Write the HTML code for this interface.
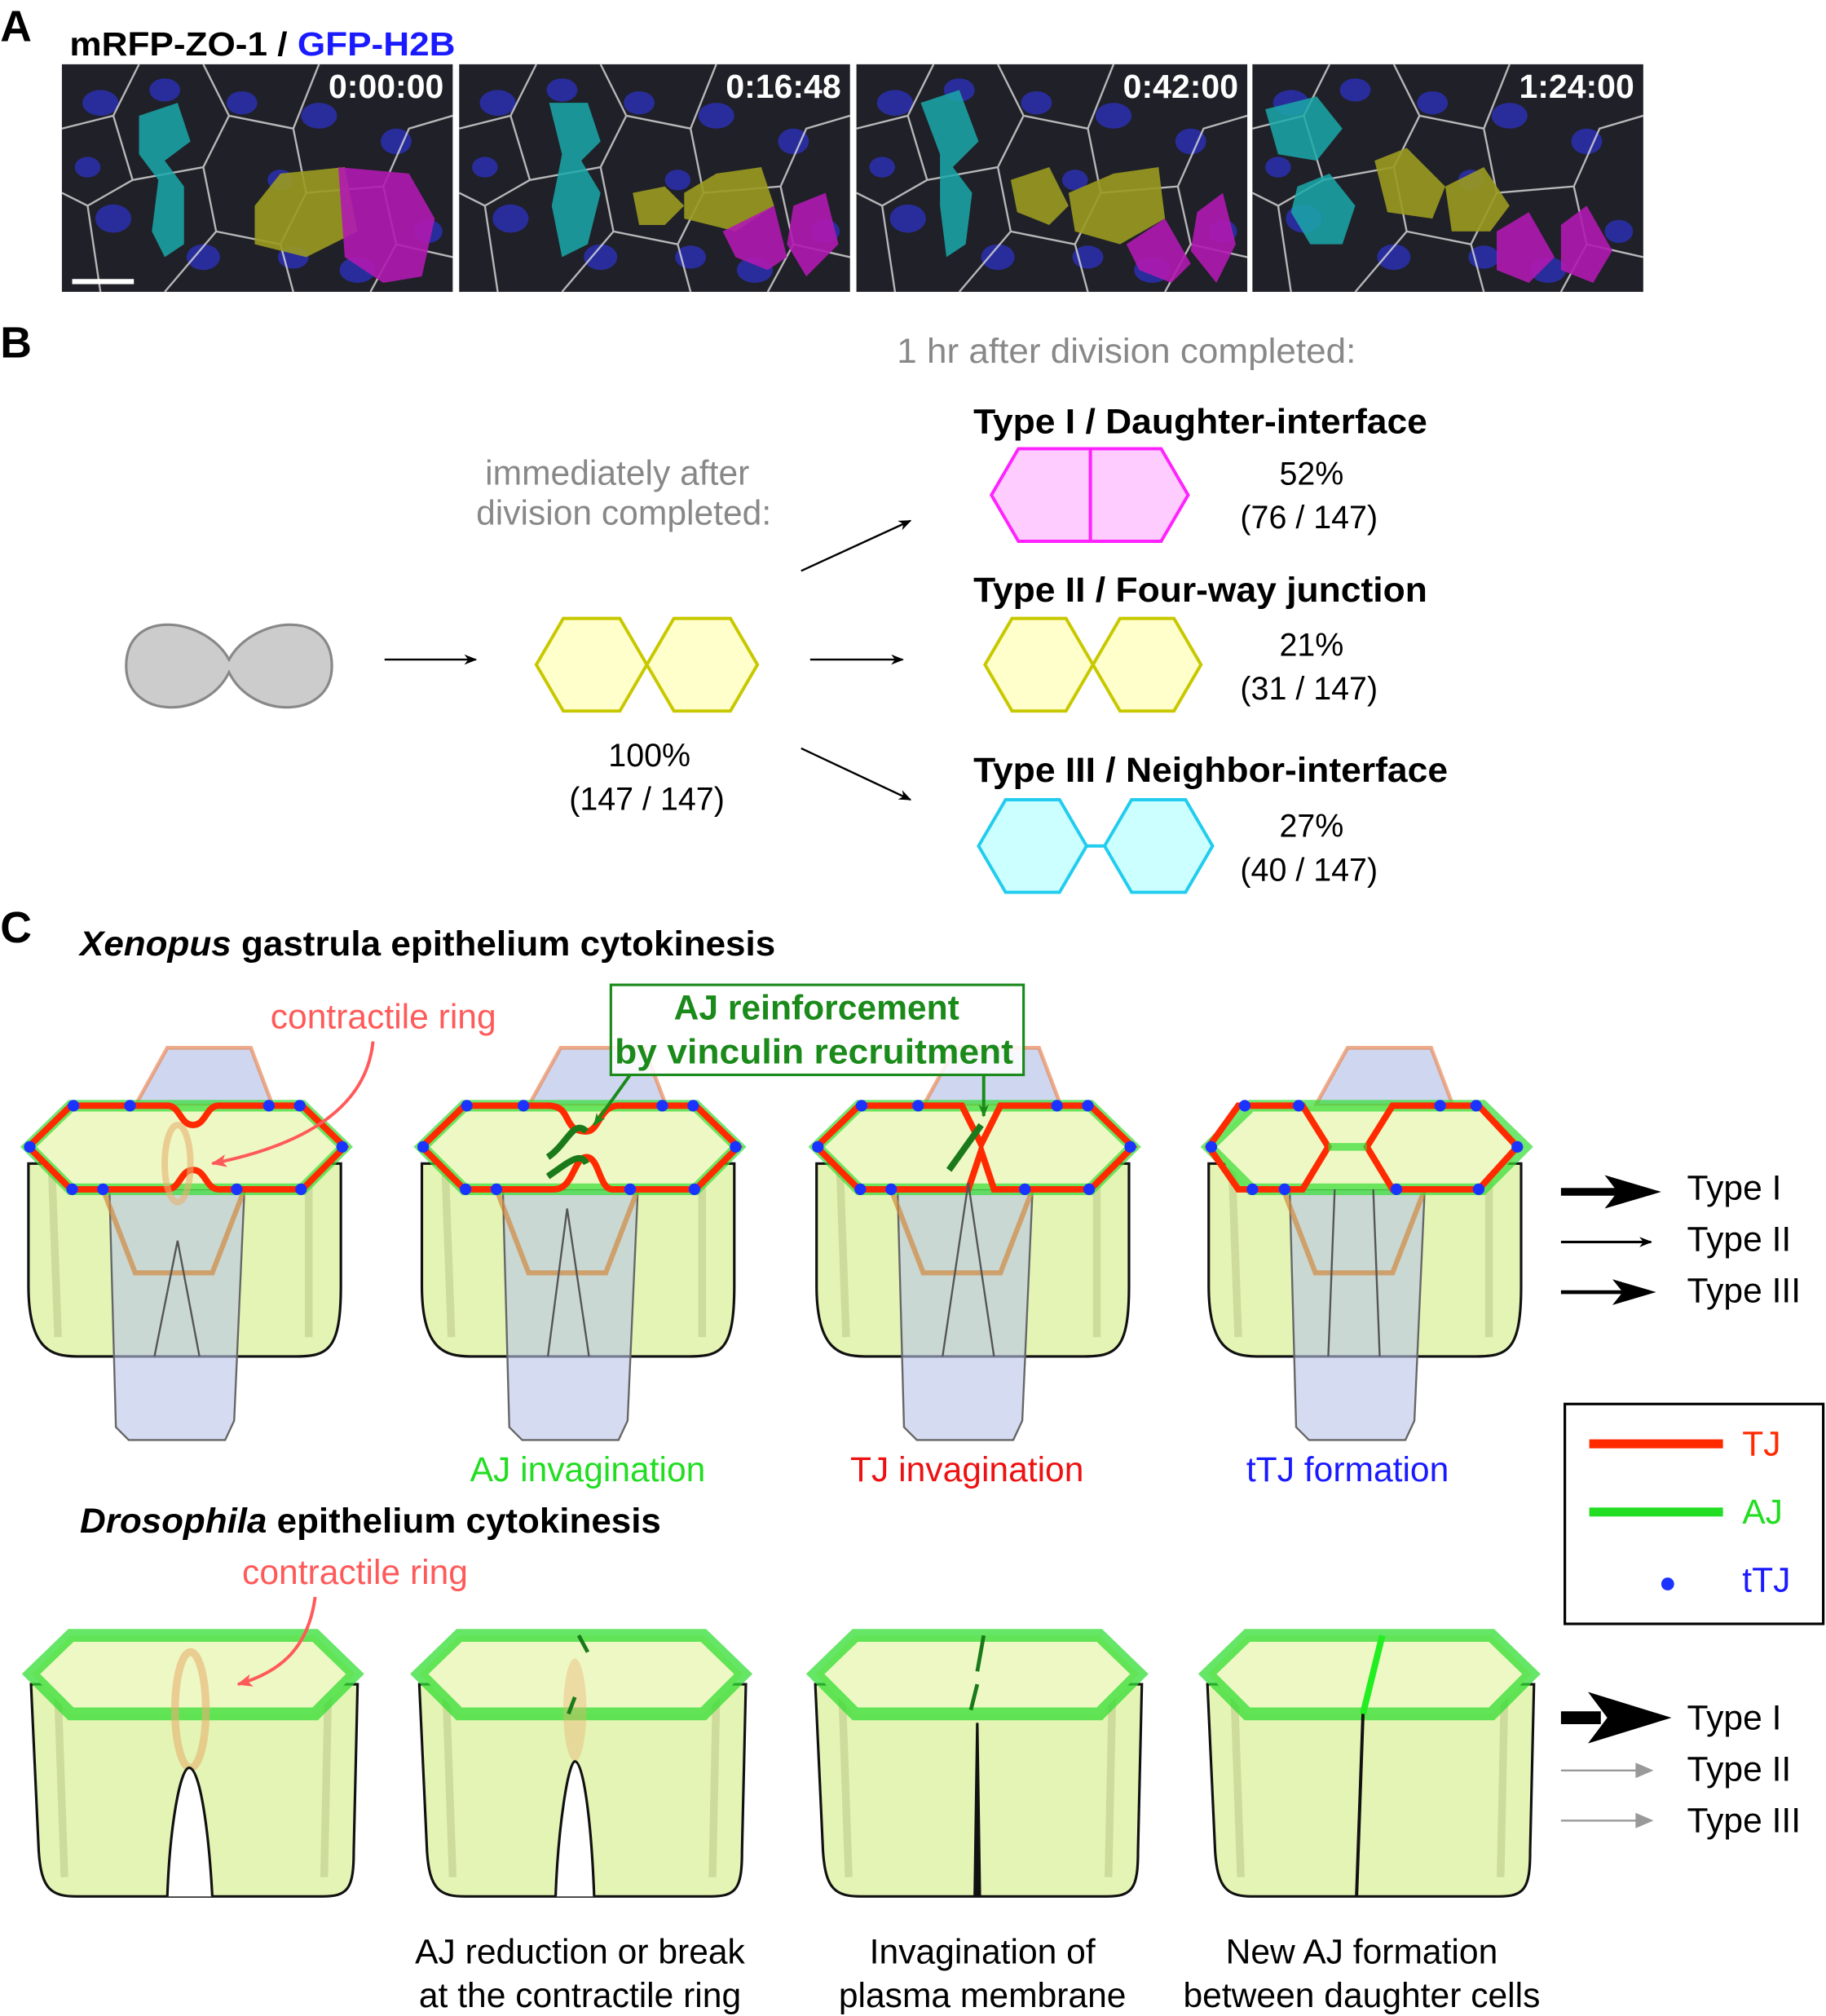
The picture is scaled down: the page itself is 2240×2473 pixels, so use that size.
<!DOCTYPE html>
<html><head><meta charset="utf-8"><style>
html,body{margin:0;padding:0;background:#fff}
svg{display:block}
text{font-family:"Liberation Sans",Arial,sans-serif}
</style></head><body>
<svg width="2240" height="2473" viewBox="0 0 1420 1568" xmlns="http://www.w3.org/2000/svg">
<defs>
<marker id="ah" markerWidth="10" markerHeight="8" refX="9" refY="4" orient="auto" markerUnits="userSpaceOnUse"><path d="M0,0 L10,4 L0,8 L3,4 z" fill="#000"/></marker>
<marker id="ahr" markerWidth="12" markerHeight="10" refX="11" refY="5" orient="auto" markerUnits="userSpaceOnUse"><path d="M0,0 L12,5 L0,10 L3,5 z" fill="#ff5a5a"/></marker>
<marker id="ahg" markerWidth="10" markerHeight="8" refX="9" refY="4" orient="auto" markerUnits="userSpaceOnUse"><path d="M0,0 L10,4 L0,8 L3,4 z" fill="#1a8a1a"/></marker>
<g id="micro">
<rect x="0" y="0" width="304" height="177" fill="#202028"/>
<g fill="#2a2fa8" opacity="0.9">
<ellipse cx="30" cy="30" rx="14" ry="10"/><ellipse cx="80" cy="20" rx="12" ry="9"/><ellipse cx="200" cy="40" rx="14" ry="10"/>
<ellipse cx="260" cy="60" rx="12" ry="10"/><ellipse cx="40" cy="120" rx="14" ry="11"/><ellipse cx="110" cy="150" rx="13" ry="10"/>
<ellipse cx="230" cy="160" rx="14" ry="10"/><ellipse cx="170" cy="90" rx="10" ry="8"/><ellipse cx="285" cy="130" rx="11" ry="9"/>
<ellipse cx="140" cy="30" rx="12" ry="9"/><ellipse cx="20" cy="80" rx="10" ry="8"/><ellipse cx="180" cy="150" rx="12" ry="9"/>
</g>
<g stroke="#ddd" stroke-width="1.5" fill="none" opacity="0.8">
<path d="M0,50 L40,40 L60,0 M40,40 L55,90 L20,110 L0,100 M55,90 L110,80 L130,40 L110,0 M130,40 L180,50 L200,0 M180,50 L190,100 L250,95 L270,50 L304,40 M250,95 L260,140 L304,150 M190,100 L170,140 L180,177 M110,80 L120,130 L80,177 M20,110 L30,177 M120,130 L170,140 M260,140 L240,177"/>
</g>
</g>
</defs>

<!-- Panel A -->
<text x="0" y="32" font-size="34" font-weight="bold">A</text>
<text x="54" y="43" font-size="26" font-weight="bold" textLength="300" lengthAdjust="spacingAndGlyphs">mRFP-ZO-1 / <tspan fill="#1a1aff">GFP-H2B</tspan></text>
<g transform="translate(48,50)"><use href="#micro"/>
<path d="M60,40 L90,30 L100,60 L80,75 L95,95 L95,140 L80,150 L70,130 L75,90 L60,70z" fill="#1aa9a9" opacity="0.85"/>
<path d="M150,110 L170,85 L220,80 L230,130 L190,150 L150,140z" fill="#9a9a20" opacity="0.9"/>
<path d="M215,80 L270,85 L290,120 L280,165 L250,170 L220,150z" fill="#b019b0" opacity="0.9"/>
<text x="297" y="26" font-size="26" font-weight="bold" fill="#fff" text-anchor="end">0:00:00</text>
<rect x="8" y="167" width="48" height="4" fill="#fff"/></g>
<g transform="translate(357,50)"><use href="#micro"/>
<path d="M70,30 L100,30 L110,60 L95,75 L110,100 L100,140 L80,150 L72,110 L80,70z" fill="#1aa9a9" opacity="0.85"/>
<path d="M135,100 L160,95 L175,110 L160,125 L140,125z" fill="#9a9a20" opacity="0.9"/>
<path d="M175,100 L200,85 L235,80 L245,110 L215,130 L175,120z" fill="#9a9a20" opacity="0.9"/>
<path d="M205,130 L245,110 L255,150 L240,160 L215,150z M260,110 L285,100 L295,140 L270,165 L255,140z" fill="#b019b0" opacity="0.9"/>
<text x="297" y="26" font-size="26" font-weight="bold" fill="#fff" text-anchor="end">0:16:48</text></g>
<g transform="translate(666,50)"><use href="#micro"/>
<path d="M50,30 L80,20 L95,60 L75,80 L90,100 L85,140 L70,150 L65,110 L65,70z" fill="#1aa9a9" opacity="0.85"/>
<path d="M120,90 L150,80 L165,110 L150,125 L125,115z" fill="#9a9a20" opacity="0.9"/>
<path d="M165,100 L200,85 L235,80 L240,120 L205,140 L170,130z" fill="#9a9a20" opacity="0.9"/>
<path d="M210,140 L240,120 L260,155 L245,170 L220,160z M265,115 L285,100 L295,140 L280,170 L260,145z" fill="#b019b0" opacity="0.9"/>
<text x="297" y="26" font-size="26" font-weight="bold" fill="#fff" text-anchor="end">0:42:00</text></g>
<g transform="translate(974,50)"><use href="#micro"/>
<path d="M10,35 L50,25 L70,50 L50,75 L20,70z M35,95 L60,85 L80,110 L70,140 L45,140 L30,115z" fill="#1aa9a9" opacity="0.85"/>
<path d="M95,75 L120,65 L150,95 L140,120 L105,115z M150,95 L180,80 L200,110 L185,130 L155,130z" fill="#9a9a20" opacity="0.9"/>
<path d="M190,130 L215,115 L235,150 L215,170 L190,160z M240,125 L260,110 L280,145 L265,170 L240,160z" fill="#b019b0" opacity="0.9"/>
<text x="297" y="26" font-size="26" font-weight="bold" fill="#fff" text-anchor="end">1:24:00</text></g>

<!-- Panel B -->
<text x="0" y="278" font-size="34" font-weight="bold">B</text>
<text x="876" y="282" font-size="27" fill="#888" text-anchor="middle" textLength="357" lengthAdjust="spacingAndGlyphs">1 hr after division completed:</text>
<text x="480" y="377" font-size="27" fill="#888" text-anchor="middle">immediately after</text>
<text x="485" y="408" font-size="27" fill="#888" text-anchor="middle">division completed:</text>
<path d="M178,513 C160,480 98,472 98,518 C98,560 160,560 178,523 C196,560 258,560 258,518 C258,472 196,480 178,513z" fill="#ccc" stroke="#888" stroke-width="2"/>
<line x1="299" y1="513" x2="370" y2="513" stroke="#000" stroke-width="1.5" marker-end="url(#ah)"/>
<polygon points="417,517 438,481 482,481 503,517 482,553 438,553" fill="#ffffcc" stroke="#c8c800" stroke-width="2.5"/>
<polygon points="503,517 524,481 568,481 589,517 568,553 524,553" fill="#ffffcc" stroke="#c8c800" stroke-width="2.5"/>
<text x="505" y="596" font-size="25" text-anchor="middle">100%</text>
<text x="503" y="630" font-size="25" text-anchor="middle">(147 / 147)</text>
<line x1="623" y1="444" x2="708" y2="405" stroke="#000" stroke-width="1.5" marker-end="url(#ah)"/>
<line x1="630" y1="513" x2="702" y2="513" stroke="#000" stroke-width="1.5" marker-end="url(#ah)"/>
<line x1="623" y1="582" x2="708" y2="622" stroke="#000" stroke-width="1.5" marker-end="url(#ah)"/>
<text x="757" y="337" font-size="27" font-weight="bold" textLength="353" lengthAdjust="spacingAndGlyphs">Type I / Daughter-interface</text>
<polygon points="771,385 792,349 848,349 848,421 792,421" fill="#ffccff" stroke="#ff22ff" stroke-width="2.5"/>
<polygon points="848,349 903,349 924,385 903,421 848,421" fill="#ffccff" stroke="#ff22ff" stroke-width="2.5"/>
<text x="1020" y="377" font-size="25" text-anchor="middle">52%</text>
<text x="1018" y="411" font-size="25" text-anchor="middle">(76 / 147)</text>
<text x="757" y="468" font-size="27" font-weight="bold" textLength="353" lengthAdjust="spacingAndGlyphs">Type II / Four-way junction</text>
<polygon points="766,517 787,481 829,481 850,517 829,553 787,553" fill="#ffffcc" stroke="#c8c800" stroke-width="2.5"/>
<polygon points="850,517 871,481 913,481 934,517 913,553 871,553" fill="#ffffcc" stroke="#c8c800" stroke-width="2.5"/>
<text x="1020" y="510" font-size="25" text-anchor="middle">21%</text>
<text x="1018" y="544" font-size="25" text-anchor="middle">(31 / 147)</text>
<text x="757" y="608" font-size="27" font-weight="bold" textLength="369" lengthAdjust="spacingAndGlyphs">Type III / Neighbor-interface</text>
<polygon points="761,658 782,622 824,622 845,658 824,694 782,694" fill="#ccffff" stroke="#22ccee" stroke-width="2.5"/>
<polygon points="859,658 880,622 922,622 943,658 922,694 880,694" fill="#ccffff" stroke="#22ccee" stroke-width="2.5"/>
<line x1="845" y1="658" x2="859" y2="658" stroke="#22ccee" stroke-width="2.5"/>
<text x="1020" y="651" font-size="25" text-anchor="middle">27%</text>
<text x="1018" y="685" font-size="25" text-anchor="middle">(40 / 147)</text>

<!-- Panel C -->
<text x="0" y="733" font-size="34" font-weight="bold">C</text>
<text x="62" y="743" font-size="27" font-weight="bold" textLength="541" lengthAdjust="spacingAndGlyphs"><tspan font-style="italic">Xenopus</tspan> gastrula epithelium cytokinesis</text>

<defs>
<g id="xcell">
<path d="M22,905 L22,1000 C22,1050 40,1055 60,1055 L230,1055 C255,1055 265,1050 265,1000 L265,905z" fill="#e4f4b4" stroke="#111" stroke-width="2"/>
<path d="M40,905 L45,1040 M240,905 L240,1040" stroke="#cddc9a" stroke-width="6" fill="none"/>
<path d="M85,925 L90,1110 L100,1120 L175,1120 L182,1105 L190,925z" fill="#b9c4ea" fill-opacity="0.6" stroke="#666" stroke-width="1.5"/>
<path d="M105,860 L130,815 L195,815 L212,860z" fill="#b9c4ea" fill-opacity="0.7" stroke="#e98a5a" stroke-width="3" stroke-opacity="0.7"/>
<path d="M80,925 L105,990 L165,990 L190,925" fill="none" stroke="#d08a40" stroke-width="4" stroke-opacity="0.7"/>
<polygon points="22,892 55,860 235,860 268,892 235,925 55,925" fill="#eef8c4" stroke="#33dd33" stroke-width="9" stroke-opacity="0.7"/>
</g>
<g id="dcell">
<path d="M24,1310 L30,1440 C32,1470 40,1475 60,1475 L250,1475 C270,1475 275,1470 275,1440 L278,1310z" fill="#e4f4b4" stroke="#111" stroke-width="2"/>
<path d="M45,1320 L50,1460 M255,1320 L252,1460" stroke="#cddc9a" stroke-width="6" fill="none"/>
<polygon points="24,1302 55,1272 245,1272 276,1302 245,1333 55,1333" fill="#eef8c4" stroke="#33dd33" stroke-width="10" stroke-opacity="0.75"/>
</g>
</defs>

<!-- Xenopus 1 -->
<use href="#xcell"/>
<path d="M22,892 L55,860 L130,860 C140,860 140,875 150,875 C160,875 160,860 170,860 L235,860 L268,892 L235,925 L170,925 C160,925 160,910 150,910 C140,910 140,925 130,925 L55,925z" fill="none" stroke="#ff2a00" stroke-width="5"/>
<ellipse cx="138" cy="905" rx="10" ry="30" fill="none" stroke="#e8b070" stroke-width="5" stroke-opacity="0.6"/>
<path d="M120,1055 L138,965 L155,1055" fill="none" stroke="#555" stroke-width="1.5"/>
<g fill="#1a33ff"><circle cx="57" cy="860" r="4.5"/><circle cx="101" cy="860" r="4.5"/><circle cx="209" cy="860" r="4.5"/><circle cx="233" cy="860" r="4.5"/><circle cx="266" cy="892" r="4.5"/><circle cx="234" cy="925" r="4.5"/><circle cx="184" cy="925" r="4.5"/><circle cx="80" cy="925" r="4.5"/><circle cx="56" cy="925" r="4.5"/><circle cx="23" cy="892" r="4.5"/></g>
<text x="298" y="800" font-size="27" fill="#ff5a5a" text-anchor="middle">contractile ring</text>
<path d="M290,810 C285,860 240,890 165,905" fill="none" stroke="#ff5a5a" stroke-width="2.5" marker-end="url(#ahr)"/>

<!-- Xenopus 2 -->
<g transform="translate(306,0)"><use href="#xcell"/>
<path d="M22,892 L55,860 L120,860 C140,860 130,880 150,880 C160,880 160,860 175,860 L235,860 L268,892 L235,925 L170,925 C160,925 160,900 150,900 C140,900 140,925 125,925 L55,925z" fill="none" stroke="#ff2a00" stroke-width="5"/>
<path d="M120,900 C135,890 140,870 150,880 M120,915 C135,905 145,895 150,905" stroke="#1a7a1a" stroke-width="5" fill="none"/>
<path d="M120,1055 L135,940 L152,1055" fill="none" stroke="#555" stroke-width="1.5"/>
<g fill="#1a33ff"><circle cx="57" cy="860" r="4.5"/><circle cx="101" cy="860" r="4.5"/><circle cx="209" cy="860" r="4.5"/><circle cx="233" cy="860" r="4.5"/><circle cx="266" cy="892" r="4.5"/><circle cx="234" cy="925" r="4.5"/><circle cx="184" cy="925" r="4.5"/><circle cx="80" cy="925" r="4.5"/><circle cx="56" cy="925" r="4.5"/><circle cx="23" cy="892" r="4.5"/></g>
</g>
<!-- Xenopus 3 -->
<g transform="translate(613,0)"><use href="#xcell"/>
<path d="M22,892 L55,860 L135,860 L150,890 L165,860 L235,860 L268,892 L235,925 L160,925 L150,895 L140,925 L55,925z" fill="none" stroke="#ff2a00" stroke-width="5"/>
<path d="M125,910 L150,875" stroke="#1a7a1a" stroke-width="5"/>
<path d="M120,1055 L140,920 L160,1055" fill="none" stroke="#555" stroke-width="1.5"/>
<g fill="#1a33ff"><circle cx="57" cy="860" r="4.5"/><circle cx="101" cy="860" r="4.5"/><circle cx="209" cy="860" r="4.5"/><circle cx="233" cy="860" r="4.5"/><circle cx="266" cy="892" r="4.5"/><circle cx="234" cy="925" r="4.5"/><circle cx="184" cy="925" r="4.5"/><circle cx="80" cy="925" r="4.5"/><circle cx="56" cy="925" r="4.5"/><circle cx="23" cy="892" r="4.5"/></g>
</g>
<!-- Xenopus 4 -->
<g transform="translate(918,0)"><use href="#xcell"/>
<path d="M22,892 L45,860 L95,860 L115,892 L95,925 L45,925z M145,892 L165,860 L232,860 L262,892 L232,925 L165,925z" fill="none" stroke="#ff2a00" stroke-width="5"/>
<path d="M115,892 L145,892" stroke="#33dd33" stroke-width="6" stroke-opacity="0.7"/>
<path d="M115,1055 L120,925 M150,925 L155,1055" fill="none" stroke="#555" stroke-width="1.5"/>
<g fill="#1a33ff"><circle cx="24" cy="892" r="4.5"/><circle cx="50" cy="860" r="4.5"/><circle cx="92" cy="860" r="4.5"/><circle cx="81" cy="925" r="4.5"/><circle cx="56" cy="925" r="4.5"/><circle cx="202" cy="860" r="4.5"/><circle cx="230" cy="860" r="4.5"/><circle cx="262" cy="892" r="4.5"/><circle cx="232" cy="925" r="4.5"/><circle cx="168" cy="925" r="4.5"/></g>
</g>

<rect x="475" y="766" width="321" height="70" fill="#fff" fill-opacity="0.85" stroke="#1a8a1a" stroke-width="2"/>
<text x="635" y="793" font-size="27" font-weight="bold" fill="#1a8a1a" text-anchor="middle">AJ reinforcement</text>
<text x="633" y="827" font-size="27" font-weight="bold" fill="#1a8a1a" text-anchor="middle" textLength="310" lengthAdjust="spacingAndGlyphs">by vinculin recruitment</text>
<path d="M490,836 L462,875" stroke="#1a8a1a" stroke-width="2.5" marker-end="url(#ahg)"/>
<path d="M765,836 L765,868" stroke="#1a8a1a" stroke-width="2.5" marker-end="url(#ahg)"/>

<text x="457" y="1152" font-size="27" fill="#22dd22" text-anchor="middle">AJ invagination</text>
<text x="752" y="1152" font-size="27" fill="#ee1111" text-anchor="middle">TJ invagination</text>
<text x="1048" y="1152" font-size="27" fill="#1a1aff" text-anchor="middle">tTJ formation</text>

<!-- arrows right -->
<path d="M1214,927 L1260,927" stroke="#000" stroke-width="6"/><path d="M1248,914 L1292,927 L1248,940 L1258,927z"/>
<line x1="1214" y1="966" x2="1284" y2="966" stroke="#000" stroke-width="2" marker-end="url(#ah)"/>
<path d="M1214,1005 L1265,1005" stroke="#000" stroke-width="3"/><path d="M1254,995 L1288,1005 L1254,1015 L1262,1005z"/>
<text x="1312" y="933" font-size="27">Type I</text>
<text x="1312" y="973" font-size="27">Type II</text>
<text x="1312" y="1013" font-size="27">Type III</text>

<rect x="1217" y="1092" width="201" height="171" fill="#fff" stroke="#000" stroke-width="2"/>
<line x1="1236" y1="1123" x2="1340" y2="1123" stroke="#ff2a00" stroke-width="7"/>
<text x="1355" y="1132" font-size="27" fill="#ff2a00">TJ</text>
<line x1="1236" y1="1176" x2="1340" y2="1176" stroke="#22dd22" stroke-width="7"/>
<text x="1355" y="1185" font-size="27" fill="#22dd22">AJ</text>
<circle cx="1297" cy="1232" r="5" fill="#1a33ff"/>
<text x="1355" y="1238" font-size="27" fill="#1a1aff">tTJ</text>

<text x="62" y="1192" font-size="27" font-weight="bold" textLength="452" lengthAdjust="spacingAndGlyphs"><tspan font-style="italic">Drosophila</tspan> epithelium cytokinesis</text>
<text x="276" y="1232" font-size="27" fill="#ff5a5a" text-anchor="middle">contractile ring</text>

<!-- Drosophila cells -->
<use href="#dcell"/>
<ellipse cx="148" cy="1330" rx="12" ry="45" fill="none" stroke="#e8b070" stroke-width="6" stroke-opacity="0.6"/>
<path d="M130,1475 C132,1420 140,1375 147,1375 C155,1375 162,1420 165,1475" fill="#fff" stroke="#111" stroke-width="2"/>
<path d="M245,1242 C240,1280 220,1300 185,1310" fill="none" stroke="#ff5a5a" stroke-width="2.5" marker-end="url(#ahr)"/>
<g transform="translate(302,0)"><use href="#dcell"/>
<ellipse cx="145" cy="1330" rx="9" ry="40" fill="#e8b070" fill-opacity="0.4"/>
<path d="M130,1475 C132,1420 140,1370 145,1370 C152,1370 158,1420 160,1475" fill="#fff" stroke="#111" stroke-width="2"/>
<path d="M148,1272 L155,1285 M140,1333 L145,1320" stroke="#1a7a1a" stroke-width="3"/>
</g>
<g transform="translate(610,0)"><use href="#dcell"/>
<path d="M148,1475 L150,1340 L152,1475" fill="#111" stroke="#111" stroke-width="2"/>
<path d="M155,1272 L150,1300 M145,1330 L150,1310" stroke="#1a7a1a" stroke-width="3"/>
</g>
<g transform="translate(915,0)"><use href="#dcell"/>
<line x1="145" y1="1333" x2="140" y2="1475" stroke="#111" stroke-width="2.5"/>
<line x1="160" y1="1272" x2="145" y2="1333" stroke="#22ee22" stroke-width="5"/>
</g>

<path d="M1214,1336 L1245,1336" stroke="#000" stroke-width="10"/><path d="M1235,1316 L1300,1336 L1235,1356 L1250,1336z"/>
<line x1="1214" y1="1377" x2="1284" y2="1377" stroke="#999" stroke-width="1.5"/><path d="M1272,1371 L1286,1377 L1272,1383z" fill="#999"/>
<line x1="1214" y1="1416" x2="1284" y2="1416" stroke="#999" stroke-width="1.5"/><path d="M1272,1410 L1286,1416 L1272,1422z" fill="#999"/>
<text x="1312" y="1345" font-size="27">Type I</text>
<text x="1312" y="1385" font-size="27">Type II</text>
<text x="1312" y="1425" font-size="27">Type III</text>

<text x="451" y="1527" font-size="27" text-anchor="middle">AJ reduction or break</text>
<text x="451" y="1561" font-size="27" text-anchor="middle">at the contractile ring</text>
<text x="764" y="1527" font-size="27" text-anchor="middle">Invagination of</text>
<text x="764" y="1561" font-size="27" text-anchor="middle">plasma membrane</text>
<text x="1059" y="1527" font-size="27" text-anchor="middle">New AJ formation</text>
<text x="1059" y="1561" font-size="27" text-anchor="middle">between daughter cells</text>
</svg>
</body></html>
